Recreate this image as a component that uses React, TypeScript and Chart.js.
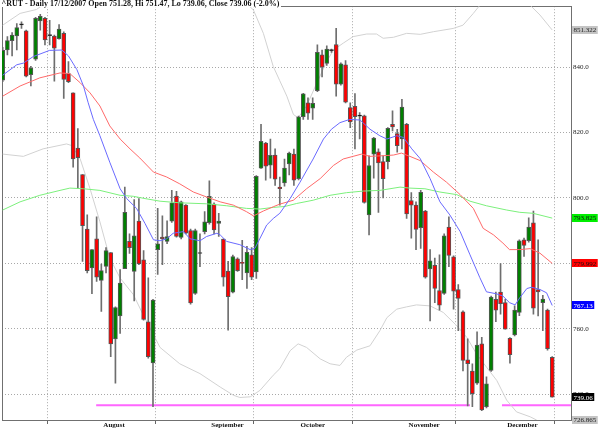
import React, { useEffect, useRef } from "react";
import { Chart, registerables } from "chart.js";

Chart.register(...registerables);

// ---- Candles (index 0 = first July session, 117 = 17 Dec 2007) ----
const opens = [
  836.0, 845.2, 848.1, 849.5, 852.9, 851.1, 837.7, 842.4, 854.1, 854.9,
  849.6, 849.5, 848.7, 850.3, 838.0, 832.1, 815.2, 807.1, 790.5, 778.6,
  787.5, 774.8, 779.1, 783.3, 756.9, 763.9, 778.4, 786.7, 777.5, 792.9,
  781.1, 762.1, 749.6, 784.2, 788.0, 786.7, 792.9, 800.6, 787.9, 797.8,
  790.0, 770.8, 783.0, 789.7, 792.4, 798.1, 792.2, 787.4, 777.6, 771.2,
  781.4, 780.3, 777.1, 782.6, 777.4, 809.1, 816.8, 810.0, 813.1, 803.3,
  804.6, 810.4, 813.4, 805.9, 824.8, 829.1, 827.4, 832.8, 843.7, 841.1,
  845.0, 846.9, 834.8, 840.7, 827.6, 828.0, 825.0, 825.1, 794.8, 813.4,
  814.1, 811.1, 811.1, 822.5, 819.7, 818.0, 822.5, 799.2, 797.8, 790.9,
  796.0, 778.3, 779.4, 771.7, 770.8, 791.1, 782.0, 772.0, 765.2, 750.5,
  747.1, 743.4, 755.4, 736.2, 747.3, 769.0, 771.2, 768.0, 757.1, 758.1,
  765.0, 787.2, 786.9, 792.4, 772.0, 768.0, 765.7, 751.28,
];
const highs = [
  846.0, 849.3, 850.5, 853.3, 853.8, 851.3, 840.2, 855.2, 856.1, 855.2,
  854.3, 849.8, 853.0, 850.8, 841.7, 832.1, 821.2, 807.1, 794.8, 784.2,
  794.2, 779.8, 784.8, 783.3, 766.7, 778.1, 803.3, 789.0, 799.5, 799.8,
  783.9, 775.6, 769.0, 796.8, 794.5, 793.0, 802.3, 802.0, 799.0, 798.0,
  790.5, 790.5, 789.0, 795.8, 805.2, 798.5, 795.3, 787.5, 780.6, 782.5,
  781.7, 787.0, 785.2, 784.8, 806.8, 822.5, 817.0, 818.0, 815.0, 806.4,
  811.9, 814.0, 814.9, 825.0, 832.0, 830.6, 830.6, 846.8, 845.2, 846.5,
  845.5, 851.8, 841.3, 842.0, 829.1, 831.9, 826.1, 825.3, 812.9, 818.5,
  815.0, 812.9, 821.5, 826.6, 821.0, 830.1, 822.8, 801.6, 798.8, 802.3,
  796.2, 784.2, 781.6, 782.6, 789.0, 794.2, 782.3, 773.5, 765.5, 756.9,
  749.3, 759.1, 757.4, 745.3, 770.0, 771.2, 779.9, 769.0, 757.3, 767.0,
  787.2, 787.7, 793.9, 796.0, 787.2, 770.2, 766.0, 751.47,
];
const lows = [
  835.5, 843.7, 843.4, 845.2, 851.8, 837.0, 834.2, 842.0, 851.3, 846.8,
  846.8, 835.7, 848.5, 830.4, 835.2, 809.4, 802.8, 780.6, 777.1, 770.7,
  774.5, 765.3, 777.1, 751.5, 743.4, 758.6, 778.4, 783.0, 768.5, 779.6,
  762.6, 751.0, 736.2, 776.6, 779.6, 786.0, 792.5, 788.0, 787.5, 789.0,
  767.5, 770.5, 779.0, 789.0, 792.0, 789.0, 788.2, 773.0, 759.6, 771.0,
  777.5, 775.0, 772.3, 775.0, 775.4, 809.0, 805.4, 806.0, 803.8, 797.8,
  803.6, 807.0, 803.8, 805.5, 824.0, 824.0, 824.0, 832.5, 837.0, 840.5,
  844.5, 831.1, 834.5, 829.0, 821.5, 815.0, 818.0, 798.4, 788.7, 806.0,
  795.6, 800.0, 808.9, 820.5, 814.0, 815.0, 793.7, 787.7, 784.2, 784.6,
  775.5, 762.4, 768.0, 765.7, 770.5, 779.0, 766.0, 759.4, 747.1, 736.4,
  736.2, 743.0, 735.0, 735.8, 747.0, 762.2, 764.5, 759.9, 749.5, 757.8,
  764.0, 782.1, 786.5, 764.5, 763.9, 759.4, 753.5, 739.06,
];
const closes = [
  845.1, 848.1, 849.8, 852.1, 852.9, 837.2, 839.7, 854.9, 855.5, 848.3,
  849.6, 845.8, 851.6, 836.2, 835.5, 811.9, 812.3, 791.5, 777.8, 784.2,
  775.8, 777.8, 783.9, 755.4, 766.5, 774.0, 795.6, 784.8, 788.4, 779.8,
  762.9, 751.5, 768.8, 786.0, 787.5, 788.2, 798.5, 788.2, 798.8, 789.2,
  767.9, 790.0, 783.0, 792.7, 800.5, 790.2, 792.9, 775.8, 769.8, 782.1,
  777.8, 780.0, 783.4, 775.8, 806.6, 817.3, 809.7, 813.0, 805.7, 802.8,
  809.1, 813.7, 805.4, 824.8, 831.8, 825.9, 828.9, 844.5, 840.0, 845.5,
  845.0, 834.8, 841.0, 829.3, 823.2, 824.8, 825.0, 798.6, 809.9, 818.3,
  810.7, 805.9, 821.3, 821.7, 816.0, 827.8, 795.1, 797.8, 790.4, 801.7,
  775.8, 780.8, 772.3, 767.2, 788.4, 782.4, 771.5, 769.3, 750.3, 749.3,
  740.2, 755.0, 735.2, 743.2, 769.7, 765.7, 767.7, 759.9, 752.1, 765.7,
  786.9, 785.5, 791.1, 766.3, 771.3, 769.1, 753.9, 739.06,
];

// ---- Axis ticks ----
const monthTickIndex = [21, 44, 63, 86, 107];
const monthLabels = ["August", "September", "October", "November", "December"];
const yTickValues = [740, 760, 780, 800, 820, 840];

// ---- Short moving average (blue) ----
const blueX = [0, 3, 4.4, 6.5, 10, 12.6, 14, 15.8, 17.2, 18.2, 19.3, 20.7, 22.8, 25, 26.4, 28.5, 30.3, 32.1, 33.5, 34.9, 36.3, 38.5, 39.9, 42, 43.4, 45.6, 46.3, 47.7, 50.5, 52.7, 53.7, 54.8, 56.2, 57.6, 59, 61.2, 63.3, 66.1, 68.3, 70, 71.8, 73.9, 76.1, 78.2, 80.3, 81.8, 83.9, 85.3, 87.1, 88.9, 91, 93.1, 95.2, 97.4, 99.5, 101.6, 103, 105.1, 106.5, 107.9, 109.1, 110.1, 111.6, 112.6, 114.4, 115.8, 117];
const blueY = [837.5, 840.7, 841.2, 843.2, 845.1, 845.2, 843.4, 839.2, 834.2, 829.1, 824.0, 819.0, 810.9, 802.8, 799.8, 796.8, 792.2, 787.2, 786.9, 787.5, 789.2, 789.7, 787.5, 786.9, 788.2, 789.2, 788.7, 786.7, 785.7, 784.2, 784.6, 787.7, 791.7, 793.7, 795.3, 799.8, 804.8, 811.9, 818.0, 821.0, 823.0, 824.0, 823.8, 821.0, 819.0, 818.0, 819.0, 818.5, 815.0, 812.0, 805.9, 798.8, 794.8, 789.7, 782.6, 775.6, 771.3, 770.7, 770.0, 768.0, 767.3, 769.5, 772.3, 772.7, 772.0, 771.0, 767.13];

// ---- Medium moving average (red) ----
const redX = [0, 3.7, 7.9, 12.2, 14.3, 16.5, 18.6, 20.7, 22.8, 25, 27.1, 29.2, 32.1, 34.9, 37.7, 40.6, 43.4, 46.3, 49.1, 51.9, 53.4, 55.5, 57.6, 59, 61.9, 64.7, 67.6, 70.4, 72.5, 74.6, 76.4, 78.2, 81, 83.2, 84.9, 86.7, 88.9, 91.7, 94.5, 97.4, 100.2, 102.3, 104.5, 106.5, 107.9, 110.1, 112.3, 114.4, 117];
const redY = [831.1, 834.2, 836.7, 838.2, 838.0, 835.2, 832.1, 828.1, 822.0, 818.0, 815.0, 812.2, 807.9, 806.4, 804.3, 801.8, 800.3, 798.8, 797.8, 795.8, 794.5, 796.0, 797.3, 798.1, 799.3, 802.8, 805.9, 809.9, 811.9, 812.7, 813.4, 812.7, 812.9, 813.1, 813.7, 812.7, 811.4, 807.9, 804.8, 801.0, 796.8, 790.7, 788.7, 786.2, 784.2, 784.2, 784.5, 783.1, 779.992];

// ---- Long moving average (green) ----
const greenX = [0, 3.7, 7.9, 12.2, 14.3, 17.2, 20.7, 25, 27.8, 30.3, 33.5, 37.7, 43.4, 47.7, 51.9, 54.8, 57.6, 60.1, 62.6, 66.1, 69.7, 73.2, 76.8, 80.3, 84.6, 86.7, 89.9, 93.1, 96.7, 99.5, 103, 107.3, 110.1, 112.9, 117];
const greenY = [796.3, 798.8, 800.8, 802.3, 803.0, 802.8, 802.3, 800.8, 800.5, 799.8, 799.0, 798.5, 798.2, 797.6, 796.8, 796.6, 797.1, 797.4, 798.3, 799.3, 800.8, 801.6, 802.1, 802.3, 803.3, 803.0, 802.8, 801.8, 801.0, 799.0, 797.6, 796.3, 795.6, 795.3, 793.825];

// ---- Bollinger bands (grey) ----
const upperX = [0, 3.7, 7.2, 9, 12, 16, 20, 25, 30, 35, 40, 45, 50, 52, 53.4, 55.5, 57.6, 59, 60.5, 61.9, 62.9, 64.7, 66.9, 69, 70.4, 72.5, 74.6, 77.5, 79.6, 81, 83.2, 86, 88.9, 91.7, 95.9, 98, 100.2, 101.6, 104, 107, 110, 112.3, 114.4, 117];
const upperY = [852.8, 856.4, 857.6, 859.4, 862, 865, 868, 871, 872, 871, 869, 866, 862, 859.4, 857.4, 850.3, 840.2, 835.8, 831.1, 825.5, 824.5, 828.1, 835.2, 841.7, 845.2, 847.3, 849.3, 850.1, 850.1, 848.8, 849.1, 850.3, 850.0, 850.8, 851.8, 852.8, 856.4, 858.9, 862, 864, 862, 858.9, 855.9, 851.322];
const lowerX = [0, 4.4, 8.6, 13.6, 14.7, 16.5, 18.6, 20.7, 22.8, 25, 27.8, 30, 33.5, 37.7, 42, 46.3, 49.1, 50.5, 52.7, 54.8, 57.6, 59, 61.2, 62.9, 64.7, 67.6, 69.7, 71.8, 73.2, 75.4, 78.2, 80.3, 81.8, 83.9, 86, 88.1, 91, 93.8, 96.7, 98.8, 100.9, 103, 105.2, 107.3, 109.4, 112.3, 113.7, 115.5, 117];
const lowerY = [813.4, 812.7, 815.0, 816.5, 816.0, 811.9, 802.8, 792.7, 781.6, 775.5, 770.5, 764.0, 754.3, 749.3, 746.3, 742.2, 739.7, 739.0, 739.2, 741.2, 745.8, 747.8, 753.3, 755.4, 754.3, 750.8, 749.3, 748.8, 751.3, 753.5, 754.8, 759.4, 763.4, 766.0, 766.7, 767.3, 767.0, 765.0, 760.9, 757.4, 752.3, 748.3, 744.2, 738.2, 734.6, 733.1, 732.1, 729.5, 726.865];

// ---- Support line (pink) ----
const supportLevel = 736.6;
const supportStartX = [19.9, 106.3];
const supportEndX = [99.5, 121];

// ---- Last-value markers on the right axis ----
const markerValues = [851.322, 793.825, 779.992, 767.13, 739.06, 726.865];
const markerBg = ["#c4c4c4", "#00ee00", "#ff0000", "#0000ff", "#000000", "#c4c4c4"];
const markerFg = ["#222222", "#111111", "#111111", "#ffffff", "#ffffff", "#222222"];

const titleText = "^RUT - Daily 17/12/2007 Open 751.28, Hi 751.47, Lo 739.06, Close 739.06 (-2.0%)";

const zip = (xs: number[], ys: number[]) => xs.map((x, i) => ({ x, y: ys[i] }));

export default function App() {
  const ref = useRef<HTMLCanvasElement | null>(null);

  useEffect(() => {
    document.body.style.margin = "0";
    const canvas = ref.current;
    if (!canvas) return;

    const bodyColors = opens.map((o, i) =>
      closes[i] > o ? "#008000" : closes[i] < o ? "#ff0000" : "#000000"
    );

    const supportData: any[] = [];
    supportStartX.forEach((s, i) => {
      supportData.push({ x: s, y: supportLevel });
      supportData.push({ x: supportEndX[i], y: supportLevel });
      if (i < supportStartX.length - 1) supportData.push({ x: (supportEndX[i] + supportStartX[i + 1]) / 2, y: null });
    });

    const decor = {
      id: "decor",
      beforeDatasetsDraw(chart: any) {
        const { ctx, chartArea } = chart;
        ctx.save();
        ctx.strokeStyle = "#707070";
        ctx.lineWidth = 1;
        ctx.strokeRect(
          Math.floor(chartArea.left) + 0.5,
          Math.floor(chartArea.top) + 0.5,
          Math.round(chartArea.right - chartArea.left),
          Math.round(chartArea.bottom - chartArea.top)
        );
        ctx.restore();
      },
      afterDraw(chart: any) {
        const { ctx, chartArea, scales } = chart;
        ctx.save();
        // title
        ctx.font = 'bold 8px "Liberation Serif"';
        const tw = ctx.measureText(titleText).width;
        ctx.fillStyle = "#ffffff";
        ctx.fillRect(1, 0, tw + 2, 7);
        ctx.fillStyle = "#111111";
        ctx.textBaseline = "alphabetic";
        ctx.textAlign = "left";
        ctx.fillText(titleText, 1.5, 6);
        // value markers
        ctx.font = '7px "Liberation Serif"';
        ctx.textBaseline = "middle";
        markerValues.forEach((v, i) => {
          let y = scales.y.getPixelForValue(v);
          y = Math.max(chartArea.top + 4, Math.min(chartArea.bottom, y));
          const w = ctx.measureText(v.toString()).width;
          const x0 = chartArea.right + 1;
          ctx.fillStyle = markerBg[i];
          ctx.fillRect(x0, Math.round(y - 4), w + 3, 8);
          ctx.fillStyle = markerFg[i];
          ctx.fillText(v.toString(), x0 + 1.5, y + 0.5);
        });
        ctx.restore();
      },
    };

    const lineDs = (data: any[], color: string, width: number, order: number) => ({
      type: "line" as const,
      data,
      borderColor: color,
      borderWidth: width,
      pointRadius: 0,
      tension: 0,
      fill: false,
      spanGaps: false,
      order,
    });

    const chart = new Chart(canvas, {
      type: "bar",
      data: {
        datasets: [
          lineDs(zip(blueX, blueY), "#6a6aff", 1, 0),
          lineDs(zip(redX, redY), "#ff6a6a", 1, 0),
          lineDs(zip(greenX, greenY), "#7cf07c", 1, 0),
          {
            type: "bar",
            data: opens.map((o, i) => ({ x: i, y: [o, closes[i]] })),
            backgroundColor: bodyColors,
            borderColor: "#555555",
            borderWidth: 1,
            borderSkipped: false,
            barThickness: 4,
            minBarLength: 1,
            grouped: false,
            order: 1,
          } as any,
          {
            type: "bar",
            data: opens.map((_, i) => ({ x: i, y: [lows[i], highs[i]] })),
            backgroundColor: "#6e6e6e",
            barThickness: 1,
            grouped: false,
            order: 2,
          } as any,
          lineDs(zip(upperX, upperY), "#d2d2d2", 1, 3),
          lineDs(zip(lowerX, lowerY), "#d2d2d2", 1, 3),
          lineDs(supportData, "#ff66ff", 2, 3),
        ] as any,
      },
      options: {
        responsive: false,
        animation: false,
        events: [],
        layout: { padding: { left: 2, top: 2.5, right: 0, bottom: 0 } },
        plugins: { legend: { display: false }, tooltip: { enabled: false } },
        scales: {
          x: {
            type: "linear",
            min: -0.149,
            max: 121.0,
            offset: false,
            afterBuildTicks: (s: any) => {
              s.ticks = monthTickIndex.map((v) => ({ value: v }));
            },
            afterFit: (s: any) => {
              s.height = 8;
            },
            ticks: {
              autoSkip: false,
              maxRotation: 0,
              minRotation: 0,
              align: "start",
              labelOffset: 2,
              padding: -3,
              color: "#111111",
              font: { family: '"Liberation Serif"', size: 7, weight: "bold" },
              callback: (_v: any, i: number) => monthLabels[i],
            },
            grid: { color: "#a8a8a8", tickColor: "#666666", tickLength: 4, drawTicks: true, lineWidth: 1 },
            border: { display: false, dash: [1, 2] },
          },
          y: {
            type: "linear",
            position: "right",
            min: 732.12,
            max: 858.6,
            afterBuildTicks: (s: any) => {
              s.ticks = yTickValues.map((v) => ({ value: v }));
            },
            afterFit: (s: any) => {
              s.width = 29;
            },
            ticks: {
              padding: 2,
              color: "#222222",
              font: { family: '"Liberation Serif"', size: 7 },
              callback: (v: any) => Number(v).toFixed(1),
            },
            grid: { color: "#a8a8a8", drawTicks: false, lineWidth: 1 },
            border: { display: false, dash: [1, 2] },
          },
        } as any,
      },
      plugins: [decor],
    });

    return () => chart.destroy();
  }, []);

  return (
    <div style={{ position: "absolute", left: 0, top: 0, width: 600, height: 428, background: "#ffffff" }}>
      <canvas ref={ref} width={600} height={428} style={{ display: "block" }} />
    </div>
  );
}
